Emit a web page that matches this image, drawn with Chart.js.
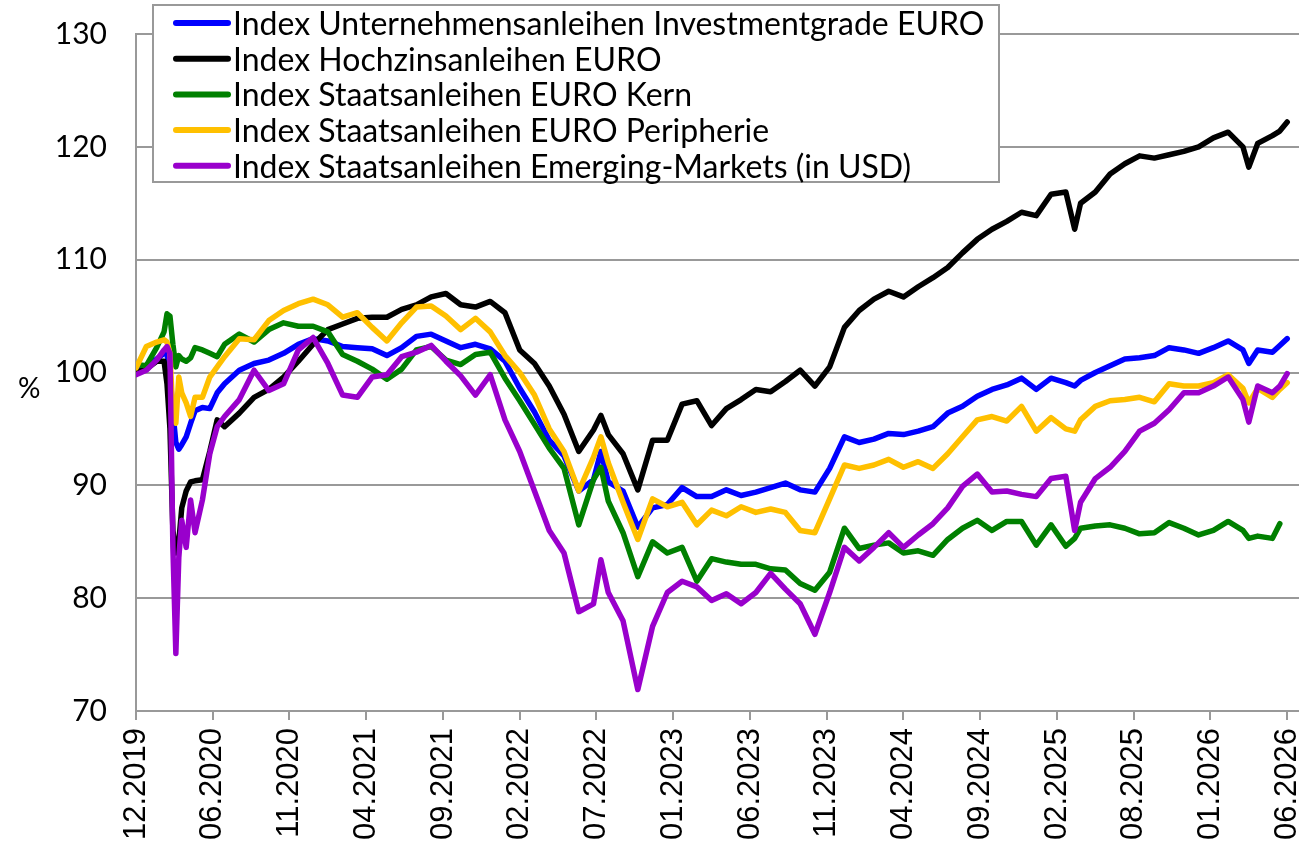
<!DOCTYPE html>
<html>
<head>
<meta charset="utf-8">
<script src="https://cdn.jsdelivr.net/npm/chart.js@4.4.1/dist/chart.umd.min.js"></script>
<style>
  html, body { margin: 0; padding: 0; background: #fff; overflow: hidden; }
  #wrap { width: 1299px; height: 852px; position: relative; }
</style>
</head>
<body>
<div id="wrap"><canvas id="chart"></canvas></div>
<script>
// months since 12.2019
const months = [0, 0.7, 1.4, 1.9, 2.1, 2.3, 2.5, 2.7, 2.9, 3.1, 3.4, 3.7, 4, 4.5, 5, 5.5,
  6, 7, 8, 9, 10, 11, 12, 13, 14, 15, 16, 17, 18, 19, 20, 21, 22, 23, 24, 25, 26, 27, 28, 29, 30, 31, 31.5,
  32, 33, 34, 35, 36, 37, 38, 39, 40, 41, 42, 43, 44, 45, 46, 47, 48, 49, 50, 51, 52, 53, 54, 55, 56, 57,
  58, 59, 60, 61, 62, 63, 63.6, 64, 65, 66, 67, 68, 69, 70, 71, 72, 73, 74, 75, 75.4, 76, 77, 77.5, 78];

const tickMonths = [0, 5.2, 10.4, 15.6, 20.8, 26, 31.2, 36.4, 41.6, 46.8, 52, 57.2, 62.4, 67.6, 72.8, 78];
const tickLabels = ['12.2019', '06.2020', '11.2020', '04.2021', '09.2021', '02.2022', '07.2022', '01.2023',
  '06.2023', '11.2023', '04.2024', '09.2024', '02.2025', '08.2025', '01.2026', '06.2026'];

const seriesNames = [
  'Index Unternehmensanleihen Investmentgrade EURO',
  'Index Hochzinsanleihen EURO',
  'Index Staatsanleihen EURO Kern',
  'Index Staatsanleihen EURO Peripherie',
  'Index Staatsanleihen Emerging-Markets (in USD)'
];
const seriesColors = ['#0000ff', '#000000', '#008000', '#ffc000', '#9900cc'];

const igEuro = [100.2, 100.6, 101.2, 101.7, 101.6, 100.0, 96.5, 93.8, 93.2, 93.6, 94.3, 95.5, 96.6, 96.9, 96.8, 98.2,
  99.0, 100.2, 100.8, 101.1, 101.7, 102.5, 103.0, 102.8, 102.3, 102.2, 102.1, 101.5, 102.2, 103.2, 103.4, 102.8,
  102.2, 102.5, 102.1, 101.0, 98.6, 96.5, 94.0, 92.6, 89.5, 90.5, 93.0,
  90.3, 89.5, 86.3, 88.0, 88.3, 89.8, 89.0, 89.0, 89.6, 89.1, 89.4, 89.8, 90.2, 89.6, 89.4, 91.5,
  94.3, 93.8, 94.1, 94.6, 94.5, 94.8, 95.2, 96.4, 97.0, 97.9, 98.5, 98.9, 99.5, 98.5, 99.5, 99.1, 98.8,
  99.3, 100.0, 100.6, 101.2, 101.3, 101.5, 102.2, 102.0, 101.7, 102.2, 102.8, 102.0, 100.8, 102.0, 101.8, 102.4, 103.0];

const hyEuro = [100.0, 100.3, 101.0, 101.0, 99.0, 95.0, 86.0, 84.0, 85.0, 88.0, 89.5, 90.3, 90.4, 90.5, 93.0, 95.8,
  95.2, 96.4, 97.8, 98.5, 99.6, 101.0, 102.5, 103.8, 104.3, 104.8, 104.9, 104.9, 105.6, 106.0, 106.7, 107.0,
  106.0, 105.8, 106.3, 105.3, 102.0, 100.8, 98.8, 96.3, 93.0, 94.9, 96.2,
  94.5, 92.8, 89.6, 94.0, 94.0, 97.2, 97.5, 95.3, 96.8, 97.6, 98.5, 98.3, 99.2, 100.2, 98.8, 100.5,
  104.0, 105.5, 106.5, 107.2, 106.7, 107.6, 108.4, 109.3, 110.6, 111.8, 112.7, 113.4, 114.2, 113.9, 115.8, 116.0, 112.7,
  115.0, 116.0, 117.6, 118.5, 119.2, 119.0, 119.3, 119.6, 120.0, 120.8, 121.3, 120.0, 118.2, 120.3, 121.0, 121.4, 122.2];

const govCore = [100.7, 100.6, 102.2, 103.6, 105.2, 105.0, 102.5, 100.5, 101.5, 101.2, 101.0, 101.3, 102.2, 102.0, 101.7, 101.4,
  102.5, 103.4, 102.7, 103.8, 104.4, 104.1, 104.1, 103.6, 101.6, 101.0, 100.3, 99.4, 100.3, 102.0, 102.3, 101.1,
  100.7, 101.6, 101.8, 99.5, 97.5, 95.4, 93.3, 91.5, 86.5, 90.5, 91.6,
  88.6, 85.8, 81.9, 85.0, 84.0, 84.5, 81.5, 83.5, 83.2, 83.0, 83.0, 82.6, 82.5, 81.3, 80.7, 82.3,
  86.2, 84.4, 84.7, 84.9, 84.0, 84.2, 83.8, 85.2, 86.2, 86.9, 86.0, 86.8, 86.8, 84.7, 86.5, 84.6, 85.3,
  86.2, 86.4, 86.5, 86.2, 85.7, 85.8, 86.7, 86.2, 85.6, 86.0, 86.8, 86.0, 85.3, 85.5, 85.3, 86.6, null];

const govPeriphery = [100.4, 102.3, 102.7, 102.9, 102.7, 101.7, 96.4, 95.5, 99.6, 98.2, 97.3, 96.1, 97.8, 97.8, 99.6, 100.5,
  101.4, 103.0, 102.9, 104.6, 105.5, 106.1, 106.5, 106.0, 104.9, 105.3, 104.0, 102.8, 104.4, 105.8, 105.9, 105.0,
  103.8, 104.8, 103.6, 101.5, 100.0, 98.0, 95.0, 93.0, 89.5, 92.5, 94.3,
  92.0, 88.5, 85.2, 88.8, 88.1, 88.5, 86.5, 87.8, 87.3, 88.1, 87.6, 87.9, 87.6, 86.0, 85.8, 88.8,
  91.8, 91.5, 91.8, 92.3, 91.6, 92.1, 91.5, 92.8, 94.3, 95.8, 96.1, 95.7, 97.0, 94.8, 96.0, 95.0, 94.8,
  95.8, 97.0, 97.5, 97.6, 97.8, 97.4, 99.0, 98.8, 98.8, 99.1, 99.8, 98.6, 97.3, 98.6, 97.8, 98.5, 99.1];

const govEmUsd = [99.8, 100.2, 101.1, 102.0, 102.3, 101.7, 84.5, 75.1, 83.6, 86.9, 84.5, 88.7, 85.8, 88.7, 92.8, 95.2,
  96.1, 97.6, 100.2, 98.4, 99.0, 102.0, 103.1, 100.8, 98.0, 97.8, 99.6, 99.8, 101.4, 101.8, 102.4, 101.0,
  99.7, 98.0, 99.8, 95.8, 93.0, 89.5, 86.0, 84.0, 78.8, 79.5, 83.4,
  80.5, 78.0, 71.9, 77.5, 80.5, 81.5, 81.0, 79.8, 80.4, 79.5, 80.5, 82.2, 80.8, 79.5, 76.8, 80.5,
  84.5, 83.3, 84.5, 85.8, 84.5, 85.6, 86.6, 88.0, 89.9, 91.0, 89.4, 89.5, 89.2, 89.0, 90.6, 90.8, 86.0,
  88.5, 90.6, 91.6, 93.0, 94.8, 95.5, 96.7, 98.2, 98.2, 98.8, 99.6, 97.6, 95.6, 98.8, 98.2, 98.8, 99.9];

const seriesValues = [igEuro, hyEuro, govCore, govPeriphery, govEmUsd];

const toPoints = vals => months.map((m, i) => ({ x: m, y: vals[i] }));

const datasets = seriesValues.map((vals, i) => ({
  label: seriesNames[i],
  data: toPoints(vals),
  borderColor: seriesColors[i],
  backgroundColor: seriesColors[i],
  borderWidth: 5.5,
  pointRadius: 0,
  tension: 0,
  borderCapStyle: 'round',
  borderJoinStyle: 'round',
  spanGaps: false,
  order: seriesValues.length - i
}));

const boxLegend = {
  id: 'boxLegend',
  afterDraw(chart) {
    const ctx = chart.ctx;
    ctx.save();
    ctx.fillStyle = '#ffffff';
    ctx.fillRect(153, 5, 846, 177);
    ctx.strokeStyle = '#999999';
    ctx.lineWidth = 2;
    ctx.strokeRect(153, 5, 846, 177);
    ctx.font = '32px Lato';
    ctx.textBaseline = 'alphabetic';
    ctx.lineCap = 'round';
    seriesNames.forEach((name, i) => {
      const y = 23 + i * 35.7;
      ctx.strokeStyle = seriesColors[i];
      ctx.lineWidth = 6;
      ctx.beginPath();
      ctx.moveTo(176, y);
      ctx.lineTo(228, y);
      ctx.stroke();
      ctx.fillStyle = '#000';
      ctx.fillText(name, 233, y + 12);
    });
    // unit label
    ctx.font = '28px Lato';
    ctx.textBaseline = 'middle';
    ctx.fillText('%', 18, 389);
    ctx.restore();
  }
};

new Chart(document.getElementById('chart'), {
  type: 'line',
  data: { datasets },
  plugins: [boxLegend],
  options: {
    responsive: true,
    maintainAspectRatio: false,
    animation: false,
    layout: { padding: { top: 34, right: 0, left: 0, bottom: 0 } },
    plugins: { legend: { display: false }, tooltip: { enabled: false } },
    scales: {
      x: {
        type: 'linear',
        min: 0,
        max: 78.8,
        afterBuildTicks: s => { s.ticks = tickMonths.map(v => ({ value: v })); },
        afterFit: s => { s.height = 141; s.paddingLeft = 0; s.paddingRight = 0; },
        grid: { drawOnChartArea: false, drawTicks: true, tickLength: 9, color: '#999999', lineWidth: 2 },
        border: { color: '#999999', width: 2 },
        ticks: {
          autoSkip: false,
          maxRotation: 90,
          minRotation: 90,
          padding: 8,
          color: '#000',
          font: { family: 'Liberation Sans', size: 31 },
          callback: (v, i) => tickLabels[i]
        }
      },
      y: {
        min: 70,
        max: 130,
        afterFit: s => { s.width = 136; s.paddingTop = 0; s.paddingBottom = 0; },
        grid: { color: '#999999', lineWidth: 2, drawTicks: false },
        border: { color: '#999999', width: 2 },
        ticks: {
          stepSize: 10,
          padding: 29,
          color: '#000',
          font: { family: 'Lato', size: 30 }
        }
      }
    }
  }
});
</script>
</body>
</html>
